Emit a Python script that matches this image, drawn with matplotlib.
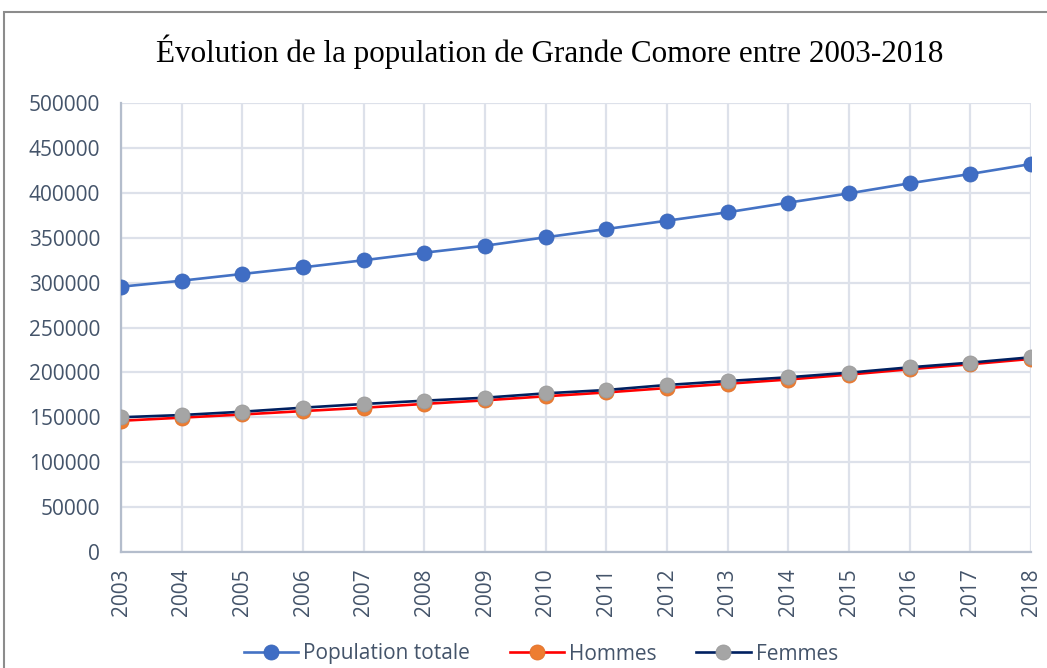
import matplotlib
matplotlib.use("Agg")
import matplotlib.pyplot as plt
from matplotlib.patches import Rectangle

years = [2003, 2004, 2005, 2006, 2007, 2008, 2009, 2010, 2011, 2012, 2013, 2014, 2015, 2016, 2017, 2018]
population_totale = [295500, 302200, 309700, 317100, 325000, 333400, 341200, 350600, 359800, 369100,
                     378500, 389200, 399600, 410800, 421200, 432300]
hommes = [146000, 149500, 153000, 156800, 160500, 164800, 168800, 173300, 177600, 182500,
          187300, 192000, 197500, 203500, 209000, 215000]
femmes = [149900, 152400, 156100, 160600, 164700, 168400, 171700, 176600, 180300, 185900,
          190300, 194500, 199600, 205600, 210800, 216800]
yticks = [0, 50000, 100000, 150000, 200000, 250000, 300000, 350000, 400000, 450000, 500000]
title = "Évolution de la population de Grande Comore entre 2003-2018"

W, H = 1047, 668
fig = plt.figure(figsize=(W / 100, H / 100), dpi=100)
ax = fig.add_axes([121 / W, 1 - 551.7 / H, (1031 - 121) / W, (551.7 - 103.3) / H])

txt_col = "#44546A"
font = "Open Sans"

ax.plot(years, population_totale, color="#4472C4", lw=1.9, marker="o", ms=10.8,
        mfc="#3F6DC4", mec="#3A66B8", mew=0.6, label="Population totale", zorder=5)
ax.plot(years, hommes, color="#FF0000", lw=1.9, marker="o", ms=10.8,
        mfc="#ED7D31", mec="#E0702A", mew=0.6, label="Hommes", zorder=4)
ax.plot(years, femmes, color="#002060", lw=1.9, marker="o", ms=10.8,
        mfc="#A5A5A5", mec="#9A9A9A", mew=0.6, label="Femmes", zorder=6)

ax.set_xlim(2003, 2018)
ax.set_ylim(0, 500000)
ax.set_xticks(years)
ax.set_xticklabels([str(y) for y in years], rotation=90, fontsize=15, color=txt_col, family=font)
ax.set_yticks(yticks)
ax.set_yticklabels([str(v) for v in yticks], fontsize=15, color=txt_col, family=font)
ax.tick_params(axis="both", length=0)
ax.tick_params(axis="x", pad=12)
ax.tick_params(axis="y", pad=15)

ax.grid(True, color="#DDE1EA", lw=1.6, zorder=0)
ax.set_axisbelow(True)
for s in ["top", "right"]:
    ax.spines[s].set_visible(False)
for s in ["left", "bottom"]:
    ax.spines[s].set_color("#B4BDCC")
    ax.spines[s].set_linewidth(1.6)

fig.text(550 / W, 1 - 52 / H, title, ha="center", va="center", fontsize=22.4,
         family="Liberation Serif", color="black")

leg = fig.legend(loc="center", bbox_to_anchor=(541 / W, 1 - 654 / H), ncol=3, frameon=False,
                 prop={"family": font, "size": 15}, handlelength=2.6, handletextpad=0.25,
                 columnspacing=1.9, borderaxespad=0)
for t in leg.get_texts():
    t.set_color(txt_col)

fig.patches.append(Rectangle((4 / W, -0.1), 1.2, 1.1 - 12 / H, transform=fig.transFigure,
                             fill=False, ec="#8C8C8C", lw=1.5))

fig.savefig("out.png", dpi=100)
